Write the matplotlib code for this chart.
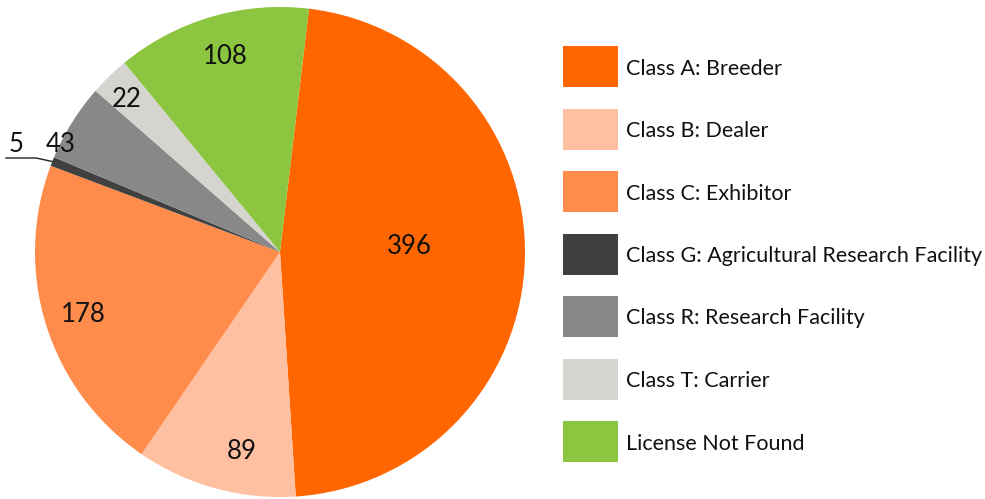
import matplotlib.pyplot as plt
from matplotlib.patches import Rectangle
import numpy as np

plt.rcParams['font.family'] = ['Lato', 'DejaVu Sans']

categories = ['Class A: Breeder', 'Class B: Dealer', 'Class C: Exhibitor',
              'Class G: Agricultural Research Facility', 'Class R: Research Facility',
              'Class T: Carrier', 'License Not Found']
counts = [396, 89, 178, 5, 43, 22, 108]
colors = ['#FF6600', '#FFC0A2', '#FF8C4B', '#404040', '#888888', '#D5D4CF', '#8CC540']

# label placement: fraction of radius and angle nudge (deg) per slice
label_r = [0.53, 0.82, 0.84, None, 1.0, 0.89, 0.84]
label_nudge = [5.0, 4.5, -0.6, 0, 5.4, 0.6, -1.0]

W, H = 985, 499
fig = plt.figure(figsize=(W / 100, H / 100), dpi=100)
ax = fig.add_axes([0, 0, 1, 1])

cx, cy, R = 280, H - 252, 245
wedges, _ = ax.pie(counts, colors=colors, startangle=83.2, counterclock=False,
                   center=(cx, cy), radius=R, frame=True,
                   wedgeprops=dict(linewidth=0))
ax.set_xlim(0, W)
ax.set_ylim(0, H)
ax.set_aspect('equal')
ax.axis('off')

for w, n, lr, nd in zip(wedges, counts, label_r, label_nudge):
    if lr is None:
        continue
    mid = np.deg2rad((w.theta1 + w.theta2) / 2 + nd)
    ax.text(cx + lr * R * np.cos(mid), cy + lr * R * np.sin(mid), str(n),
            ha='center', va='center_baseline', fontsize=18.5, color='#111111')

# small slice: leader line
w5 = wedges[3]
mid = np.deg2rad((w5.theta1 + w5.theta2) / 2)
ex, ey = cx + R * np.cos(mid), cy + R * np.sin(mid)
ax.plot([ex, 36, 6], [ey, H - 158, H - 158], color='#222222', lw=1)
ax.text(16, H - 142, str(counts[3]), ha='center', va='center_baseline', fontsize=18.5, color='#111111')

# legend
for i, (lab, col) in enumerate(zip(categories, colors)):
    yc = H - (66.5 + i * 62.5)
    ax.add_patch(Rectangle((563, yc - 20.5), 55, 41, color=col, lw=0))
    ax.text(626, yc, lab, ha='left', va='center_baseline', fontsize=15.5, color='#111111')

fig.savefig('out.png', dpi=100)
